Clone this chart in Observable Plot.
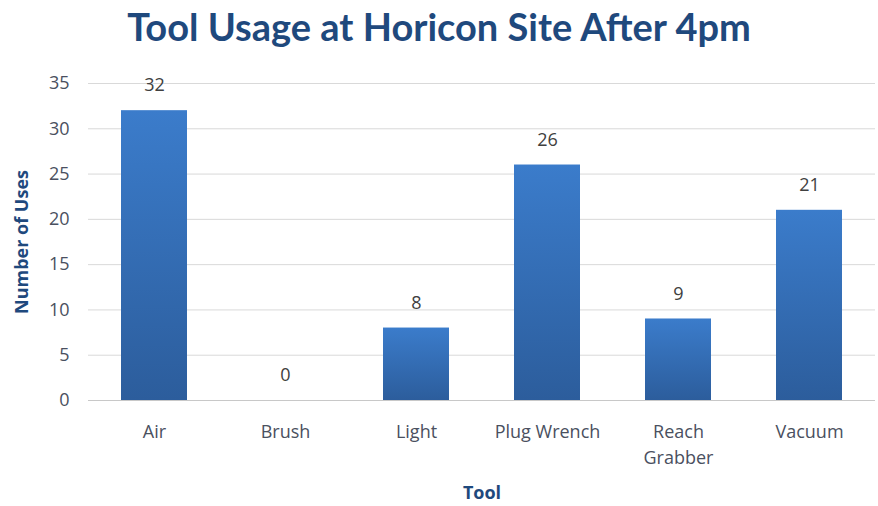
<!DOCTYPE html>
<html>
<head>
<meta charset="utf-8">
<script src="https://cdn.jsdelivr.net/npm/d3@7"></script>
<script src="https://cdn.jsdelivr.net/npm/@observablehq/plot@0.6"></script>
<style>
  body { margin: 0; background: #fff; }
  #title { height: 60px; line-height: 52px; text-align: center; font-family: Lato, "Open Sans", sans-serif; font-weight: bold; font-size: 38px; color: #1F497D; }
</style>
</head>
<body>
<div id="title">Tool Usage at Horicon Site After 4pm</div>
<div id="chart"></div>
<script>
const tools = ["Air", "Brush", "Light", "Plug Wrench", "Reach Grabber", "Vacuum"];
const uses = [32, 0, 8, 26, 9, 21];
const yTicks = [0, 5, 10, 15, 20, 25, 30, 35];
const tickLabels = {"Reach Grabber": "Reach\nGrabber"};

const data = tools.map((t, i) => ({tool: t, value: uses[i]}));
const font = "'Open Sans', Lato, sans-serif";
const tickColor = "#4A5060";
const titleColor = "#1F497D";

const chart = Plot.plot({
  width: 878,
  height: 446,
  marginTop: 23,
  marginBottom: 106,
  marginLeft: 88,
  marginRight: 3,
  style: {fontFamily: font, fontSize: "18px", color: tickColor, background: "white"},
  x: {domain: tools, paddingInner: 0.5, paddingOuter: 0.25, label: null},
  y: {domain: [0, 35], label: null},
  marks: [
    Plot.ruleY(yTicks, {stroke: "#d9d9d9", strokeWidth: 1}),
    Plot.ruleY([0], {stroke: "#c8c8c8", strokeWidth: 1}),
    Plot.barY(data, {x: "tool", y: "value", fill: "url(#barGrad)"}),
    Plot.text(data, {x: "tool", y: "value", text: d => String(d.value), dy: -25, fill: "#404040", fontSize: 18}),
    Plot.axisX({tickSize: 0, tickPadding: 19, fontSize: 18, fill: tickColor, tickFormat: d => tickLabels[d] || d, lineHeight: 1.45}),
    Plot.axisY({ticks: yTicks, tickSize: 0, tickPadding: 19, fontSize: 18, fill: tickColor}),
    Plot.text(["Tool"], {frameAnchor: "bottom", dy: 98, fontWeight: "bold", fontSize: 18, fill: titleColor}),
    Plot.text(["Number of Uses"], {frameAnchor: "left", textAnchor: "middle", dx: -66, rotate: -90, fontWeight: "bold", fontSize: 18, fill: titleColor})
  ]
});

const ns = "http://www.w3.org/2000/svg";
const defs = document.createElementNS(ns, "defs");
const grad = document.createElementNS(ns, "linearGradient");
grad.setAttribute("id", "barGrad");
grad.setAttribute("x1", "0"); grad.setAttribute("y1", "0");
grad.setAttribute("x2", "0"); grad.setAttribute("y2", "1");
[["0%", "#3B7CCB"], ["100%", "#2C5D9C"]].forEach(([o, c]) => {
  const s = document.createElementNS(ns, "stop");
  s.setAttribute("offset", o); s.setAttribute("stop-color", c);
  grad.appendChild(s);
});
defs.appendChild(grad);
chart.insertBefore(defs, chart.firstChild);
document.getElementById("chart").appendChild(chart);
</script>
</body>
</html>
